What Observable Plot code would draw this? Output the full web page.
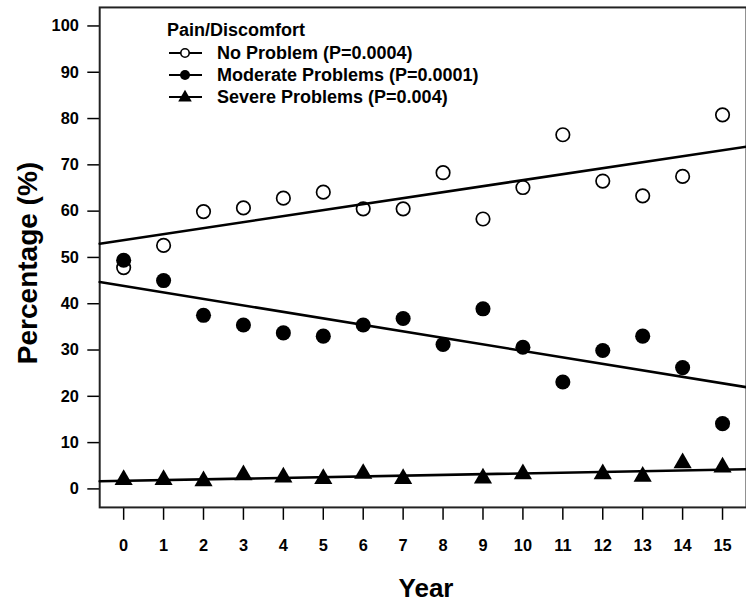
<!DOCTYPE html>
<html>
<head>
<meta charset="utf-8">
<script src="https://cdn.jsdelivr.net/npm/d3@7"></script>
<script src="https://cdn.jsdelivr.net/npm/@observablehq/plot@0.6"></script>
<style>
  body { margin: 0; background: #fff; }
  #wrap { position: relative; width: 746px; height: 607px; overflow: hidden;
          font-family: "Liberation Sans", Arial, Helvetica, sans-serif; }
  #wrap > svg { position: absolute; left: 0; top: 0; }
  #legend { position: absolute; left: 0; top: 0; font-weight: bold; font-size: 18px; color: #000; }
  #legend .title { position: absolute; left: 167px; top: 20px; line-height: 20px; white-space: nowrap; }
  #legend .row { position: absolute; left: 169px; height: 20px; line-height: 20px; white-space: nowrap; }
  #legend .row svg { position: absolute; left: 0; top: 0; }
  #legend .row span { position: absolute; left: 48px; top: 0; }
  .ylab { position: absolute; left: -122px; top: 246px; width: 300px; height: 34px; line-height: 34px;
          text-align: center; font-size: 28px; font-weight: bold; transform: rotate(-90deg); white-space: nowrap; }
  .xlab { position: absolute; left: 326px; top: 573px; width: 200px; height: 30px; line-height: 30px;
          text-align: center; font-size: 26px; font-weight: bold; white-space: nowrap; }
</style>
</head>
<body>
<div id="wrap"></div>
<script>
// ---- data ----
const years = [0, 1, 2, 3, 4, 5, 6, 7, 8, 9, 10, 11, 12, 13, 14, 15];
const noProblem = [47.8, 52.6, 59.9, 60.7, 62.8, 64.1, 60.5, 60.5, 68.3, 58.3, 65.1, 76.5, 66.5, 63.3, 67.5, 80.8];
const moderate  = [49.4, 45.0, 37.5, 35.4, 33.7, 33.0, 35.4, 36.8, 31.2, 38.9, 30.6, 23.1, 29.9, 33.0, 26.2, 14.1];
const severeYears = [0, 1, 2, 3, 4, 5, 6, 7, 9, 10, 12, 13, 14, 15];
const severe      = [2.0, 2.0, 1.7, 3.0, 2.5, 2.2, 3.3, 2.2, 2.3, 3.2, 3.2, 2.7, 5.6, 4.7];
const seriesNames = ["No Problem (P=0.0004)", "Moderate Problems (P=0.0001)", "Severe Problems (P=0.004)"];
const legendTitle = "Pain/Discomfort";
const yTicks = [0, 10, 20, 30, 40, 50, 60, 70, 80, 90, 100];
const xLabel = "Year";
const yLabel = "Percentage (%)";

// ---- build tables ----
const noRows = years.map((x, i) => ({x, y: noProblem[i]}));
const modRows = years.map((x, i) => ({x, y: moderate[i]}));
const sevRows = severeYears.map((x, i) => ({x, y: severe[i]}));

function ols(rows) {
  const mx = d3.mean(rows, d => d.x), my = d3.mean(rows, d => d.y);
  const sxy = d3.sum(rows, d => (d.x - mx) * (d.y - my));
  const sxx = d3.sum(rows, d => (d.x - mx) ** 2);
  const b = sxy / sxx;
  return {a: my - b * mx, b};
}
const xDomain = [-0.6, 15.6];
const fitRows = [noRows, modRows, sevRows].flatMap((rows, k) => {
  const f = ols(rows);
  return xDomain.map(x => ({s: k, x, y: f.a + f.b * x}));
});

const chart = Plot.plot({
  width: 752,
  height: 607,
  marginLeft: 100,
  marginRight: 0,
  marginTop: 7,
  marginBottom: 96,
  x: {domain: xDomain},
  y: {domain: [-4, 104]},
  style: {fontFamily: '"Liberation Sans", Arial, Helvetica, sans-serif', fontSize: "16px", fontWeight: "bold", color: "#000", background: "#fff"},
  marks: [
    Plot.axisY({ticks: yTicks, tickSize: 12, tickPadding: 9, label: null, strokeWidth: 1.5, fontSize: 16.5}),
    Plot.axisX({ticks: years, tickSize: 13, tickPadding: 19, label: null, strokeWidth: 1.5, fontSize: 16.5}),
    Plot.frame({stroke: "#222", strokeWidth: 2}),
    Plot.line(fitRows, {x: "x", y: "y", z: "s", stroke: "#000", strokeWidth: 2.6}),
    Plot.dot(noRows, {x: "x", y: "y", r: 6.8, symbol: "circle", stroke: "#000", strokeWidth: 1.7, fill: "none"}),
    Plot.dot(modRows, {x: "x", y: "y", r: 7.6, symbol: "circle", fill: "#000", stroke: "none"}),
    Plot.dot(sevRows, {x: "x", y: "y", r: 6.8, symbol: "triangle", fill: "#000", stroke: "none"})
  ]
});

const wrap = document.getElementById("wrap");
wrap.appendChild(chart);

// ---- axis titles ----
const yl = document.createElement("div");
yl.className = "ylab";
yl.textContent = yLabel;
wrap.appendChild(yl);
const xl = document.createElement("div");
xl.className = "xlab";
xl.textContent = xLabel;
wrap.appendChild(xl);

// ---- legend ----
const legend = document.createElement("div");
legend.id = "legend";
const title = document.createElement("div");
title.className = "title";
title.textContent = legendTitle;
legend.appendChild(title);
const keyShapes = [
  '<circle cx="16" cy="10" r="4.2" fill="#fff" stroke="#000" stroke-width="1.6"/>',
  '<circle cx="16" cy="10" r="5" fill="#000"/>',
  '<path d="' + d3.symbol(d3.symbolTriangle, 80)() + '" transform="translate(16,10.5)" fill="#000"/>'
];
const rowTops = [43, 65, 87];
seriesNames.forEach((name, i) => {
  const row = document.createElement("div");
  row.className = "row";
  row.style.top = rowTops[i] + "px";
  row.innerHTML = '<svg width="34" height="20"><line x1="0" x2="33" y1="10" y2="10" stroke="#000" stroke-width="2.2"/>' + keyShapes[i] + '</svg>';
  const span = document.createElement("span");
  span.textContent = name;
  row.appendChild(span);
  legend.appendChild(row);
});
wrap.appendChild(legend);
</script>
</body>
</html>
